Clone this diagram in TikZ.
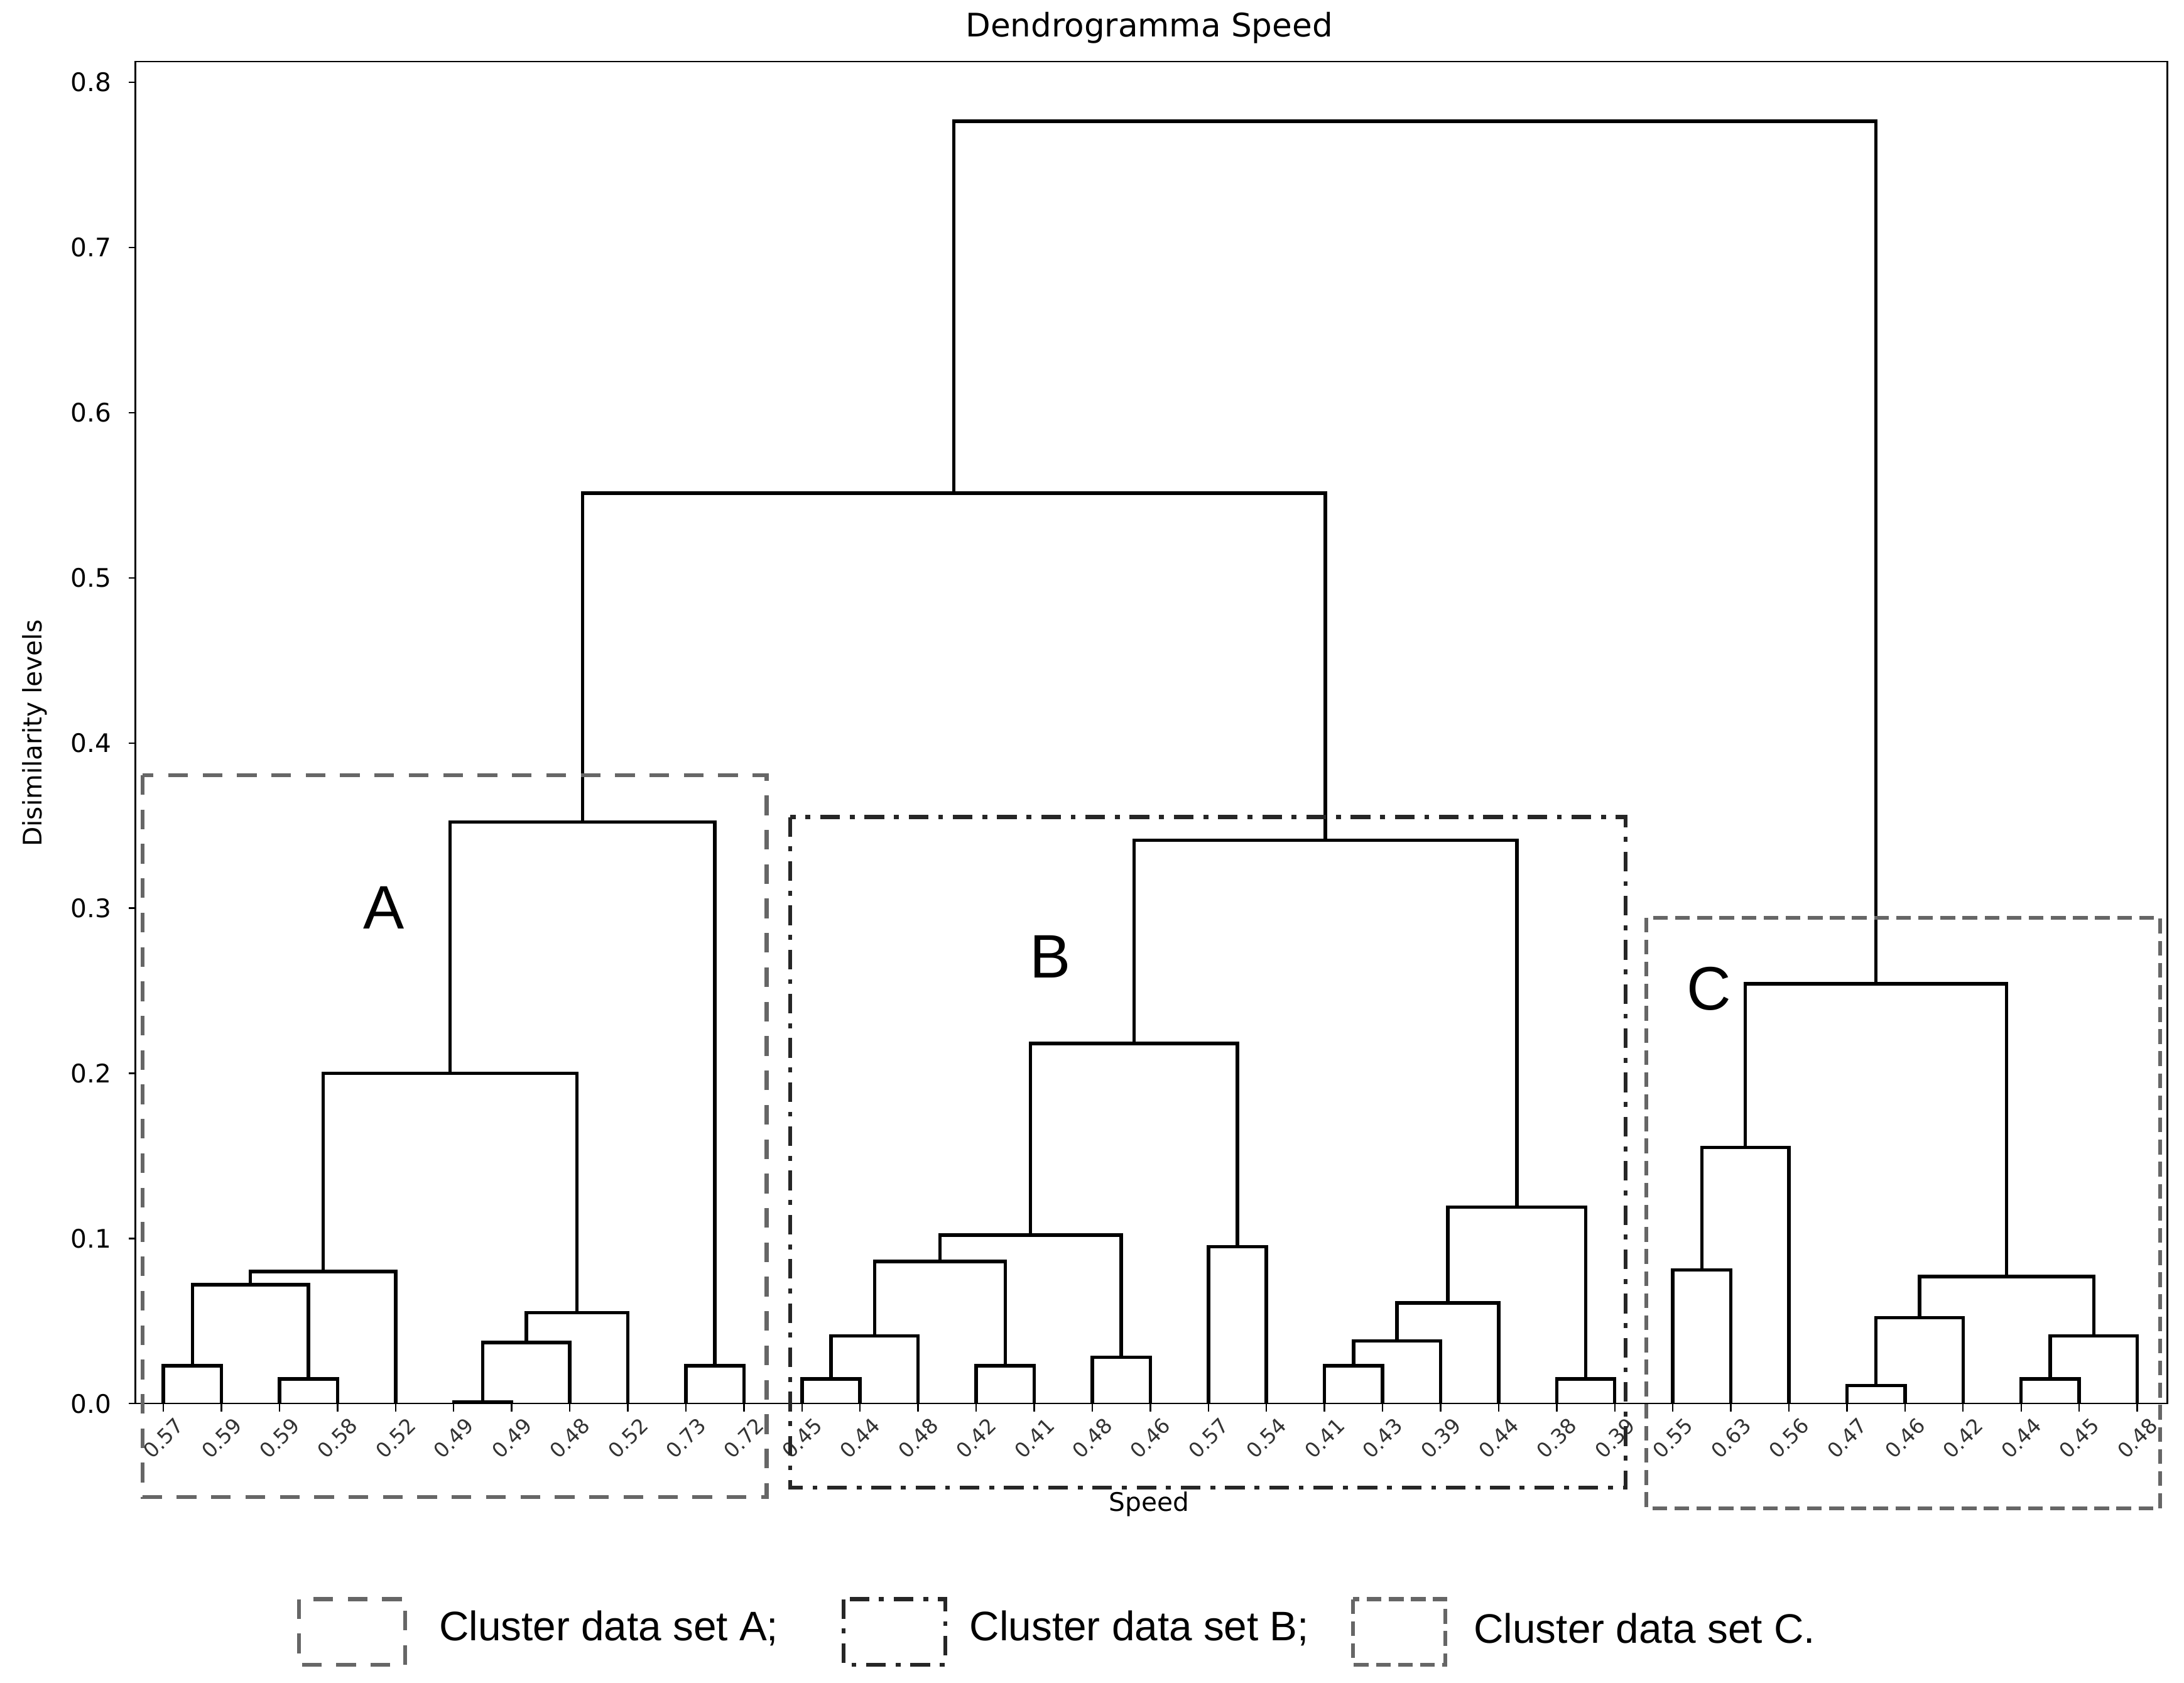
\documentclass[tikz,border=0pt]{standalone}
\usepackage{fontspec}
\setmainfont{DejaVu Sans}
\newfontfamily\legfont{Liberation Sans}
\usetikzlibrary{calc}
\newcommand{\merge}[4]{% left, right, height, name
  \path ($(#1)!0.5!(#2)$) coordinate (tmp);
  \coordinate (#4) at (tmp |- 0,#3);
  \draw[link] (#1) |- (#4) -| (#2);
}
\begin{document}
\begin{tikzpicture}[x=0.01cm,y=-0.01cm,
  link/.style={line width=0.7pt},
  clusA/.style={draw=black!60, line width=0.8pt, dash pattern=on 4pt off 3pt},
  clusB/.style={draw=black!85, line width=0.8pt, dash pattern=on 4pt off 2pt on 1pt off 2pt},
  clusC/.style={draw=black!60, line width=0.8pt, dash pattern=on 3pt off 1.5pt},
  tick/.style={font=\fontsize{5.2}{6}\selectfont},
  leaf/.style={font=\fontsize{4.2}{5}\selectfont, rotate=45, text=black!80},
  letter/.style={font=\legfont\fontsize{12.5}{13}\selectfont},
  legend/.style={font=\legfont\fontsize{8.4}{9}\selectfont, anchor=west}]
\useasboundingbox (0,0) rectangle (1564,1205);

% axes
\draw[line width=0.3pt] (97,44) rectangle (1552,1005);
\node[font=\fontsize{6.6}{7}\selectfont] (title) at (823,20) {Dendrogramma Speed};
\node[tick, rotate=90] (ylab) at (25,525) {Disimilarity levels};
\node[tick] (xlab) at (823,1077) {Speed};
\foreach \v in {0,...,8}
  \draw[line width=0.3pt] (97,{1005-118.25*\v}) -- ++(-5,0)
    node[tick, anchor=east] (yt\v) {0.\v};

% dendrogram in data units
\begin{scope}[shift={(117,1005)}, x=0.4155cm, y=11.825cm]
\foreach \val [count=\i from 0] in {0.57,0.59,0.59,0.58,0.52,0.49,0.49,0.48,0.52,0.73,0.72,
    0.45,0.44,0.48,0.42,0.41,0.48,0.46,0.57,0.54,0.41,0.43,0.39,0.44,0.38,0.39,
    0.55,0.63,0.56,0.47,0.46,0.42,0.44,0.45,0.48} {
  \coordinate (l\i) at (\i,0);
  \draw[line width=0.3pt] (l\i) -- ++(0,-0.005);
  \node[leaf] (lab\i) at (\i,-0.021) {\val};
}
% cluster A
\merge{l0}{l1}{0.023}{a1}
\merge{l2}{l3}{0.015}{a2}
\merge{a1}{a2}{0.072}{a3}
\merge{a3}{l4}{0.080}{a4}
\merge{l5}{l6}{0.001}{a5}
\merge{a5}{l7}{0.037}{a6}
\merge{a6}{l8}{0.055}{a7}
\merge{a4}{a7}{0.200}{a8}
\merge{l9}{l10}{0.023}{a9}
\merge{a8}{a9}{0.352}{a10}
% cluster B
\merge{l11}{l12}{0.015}{b1}
\merge{b1}{l13}{0.041}{b2}
\merge{l14}{l15}{0.023}{b3}
\merge{b2}{b3}{0.086}{b4}
\merge{l16}{l17}{0.028}{b5}
\merge{b4}{b5}{0.102}{b6}
\merge{l18}{l19}{0.095}{b7}
\merge{b6}{b7}{0.218}{b8}
\merge{l20}{l21}{0.023}{b9}
\merge{b9}{l22}{0.038}{b10}
\merge{b10}{l23}{0.061}{b11}
\merge{l24}{l25}{0.015}{b12}
\merge{b11}{b12}{0.119}{b13}
\merge{b8}{b13}{0.341}{b14}
% cluster C
\merge{l26}{l27}{0.081}{c1}
\merge{c1}{l28}{0.155}{c2}
\merge{l29}{l30}{0.011}{c3}
\merge{c3}{l31}{0.052}{c4}
\merge{l32}{l33}{0.015}{c5}
\merge{c5}{l34}{0.041}{c6}
\merge{c4}{c6}{0.077}{c7}
\merge{c2}{c7}{0.254}{c8}
% top
\merge{a10}{b14}{0.551}{ab}
\merge{ab}{c8}{0.776}{root}
\end{scope}

% cluster boxes
\draw[clusA] (102,555) rectangle (549,1072);
\draw[clusB] (566,585) rectangle (1164,1065);
\draw[clusC] (1179,657) rectangle (1547,1080);
\node[letter] (labA) at (275,650) {A};
\node[letter] (labB) at (752,685) {B};
\node[letter] (labC) at (1224,708) {C};

% legend
\draw[clusA] (214,1145) rectangle (290,1192);
\node[legend] (legA) at (302,1166) {Cluster data set A;};
\draw[clusB] (604,1145) rectangle (677,1192);
\node[legend] (legB) at (682,1166) {Cluster data set B;};
\draw[clusC] (969,1145) rectangle (1035,1192);
\node[legend] (legC) at (1043,1166) {Cluster data set C.};
\end{tikzpicture}
\end{document}
